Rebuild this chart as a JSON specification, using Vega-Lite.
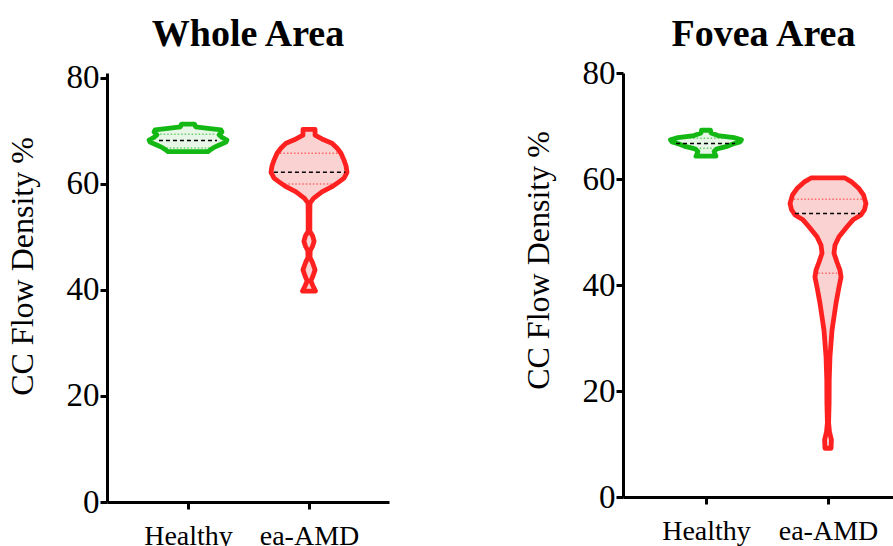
{
  "$schema": "https://vega.github.io/schema/vega-lite/v6.json",
  "background": "white",
  "padding": {"left": 6, "top": 15, "right": 0, "bottom": 0},
  "spacing": 133,
  "config": {
    "view": {"stroke": null},
    "axis": {
      "domainColor": "black", "domainWidth": 3, "tickColor": "black", "tickWidth": 3, "tickSize": 7,
      "labelFont": "Liberation Serif", "labelColor": "black", "titleFont": "Liberation Serif", "titleColor": "black",
      "grid": false, "labelOverlap": false, "labelFlush": false
    },
    "title": {"font": "Liberation Serif", "fontSize": 38, "fontWeight": "bold", "color": "black", "baseline": "alphabetic", "anchor": "middle", "frame": "group"}
  },
  "datasets": {
    "outline": [
      {"panel": "Whole", "group": "Healthy", "v": 71.3, "lo": 0.946, "hi": 1.054},
      {"panel": "Whole", "group": "Healthy", "v": 70.8, "lo": 0.938, "hi": 1.062},
      {"panel": "Whole", "group": "Healthy", "v": 70.5, "lo": 0.835, "hi": 1.165},
      {"panel": "Whole", "group": "Healthy", "v": 70.2, "lo": 0.727, "hi": 1.273},
      {"panel": "Whole", "group": "Healthy", "v": 69.8, "lo": 0.719, "hi": 1.281},
      {"panel": "Whole", "group": "Healthy", "v": 69.3, "lo": 0.744, "hi": 1.256},
      {"panel": "Whole", "group": "Healthy", "v": 68.8, "lo": 0.719, "hi": 1.281},
      {"panel": "Whole", "group": "Healthy", "v": 68.3, "lo": 0.678, "hi": 1.322},
      {"panel": "Whole", "group": "Healthy", "v": 67.9, "lo": 0.686, "hi": 1.314},
      {"panel": "Whole", "group": "Healthy", "v": 67.4, "lo": 0.736, "hi": 1.264},
      {"panel": "Whole", "group": "Healthy", "v": 66.9, "lo": 0.785, "hi": 1.215},
      {"panel": "Whole", "group": "Healthy", "v": 66.4, "lo": 0.818, "hi": 1.182},
      {"panel": "Whole", "group": "Healthy", "v": 66.1, "lo": 0.835, "hi": 1.165},
      {"panel": "Whole", "group": "ea-AMD", "v": 70.3, "lo": 1.950, "hi": 2.050},
      {"panel": "Whole", "group": "ea-AMD", "v": 69.2, "lo": 1.950, "hi": 2.050},
      {"panel": "Whole", "group": "ea-AMD", "v": 68.5, "lo": 1.893, "hi": 2.107},
      {"panel": "Whole", "group": "ea-AMD", "v": 67.7, "lo": 1.810, "hi": 2.190},
      {"panel": "Whole", "group": "ea-AMD", "v": 66.8, "lo": 1.769, "hi": 2.231},
      {"panel": "Whole", "group": "ea-AMD", "v": 65.8, "lo": 1.736, "hi": 2.264},
      {"panel": "Whole", "group": "ea-AMD", "v": 64.5, "lo": 1.711, "hi": 2.289},
      {"panel": "Whole", "group": "ea-AMD", "v": 63.4, "lo": 1.694, "hi": 2.306},
      {"panel": "Whole", "group": "ea-AMD", "v": 62.2, "lo": 1.686, "hi": 2.314},
      {"panel": "Whole", "group": "ea-AMD", "v": 61.1, "lo": 1.711, "hi": 2.289},
      {"panel": "Whole", "group": "ea-AMD", "v": 60.4, "lo": 1.752, "hi": 2.248},
      {"panel": "Whole", "group": "ea-AMD", "v": 59.5, "lo": 1.810, "hi": 2.190},
      {"panel": "Whole", "group": "ea-AMD", "v": 58.5, "lo": 1.893, "hi": 2.107},
      {"panel": "Whole", "group": "ea-AMD", "v": 57.3, "lo": 1.963, "hi": 2.037},
      {"panel": "Whole", "group": "ea-AMD", "v": 56.4, "lo": 1.992, "hi": 2.008},
      {"panel": "Whole", "group": "ea-AMD", "v": 54.2, "lo": 1.993, "hi": 2.007},
      {"panel": "Whole", "group": "ea-AMD", "v": 51.1, "lo": 1.993, "hi": 2.007},
      {"panel": "Whole", "group": "ea-AMD", "v": 50.2, "lo": 1.970, "hi": 2.030},
      {"panel": "Whole", "group": "ea-AMD", "v": 49.2, "lo": 1.958, "hi": 2.042},
      {"panel": "Whole", "group": "ea-AMD", "v": 48.3, "lo": 1.970, "hi": 2.030},
      {"panel": "Whole", "group": "ea-AMD", "v": 47.4, "lo": 1.990, "hi": 2.010},
      {"panel": "Whole", "group": "ea-AMD", "v": 46.2, "lo": 1.992, "hi": 2.008},
      {"panel": "Whole", "group": "ea-AMD", "v": 45.1, "lo": 1.970, "hi": 2.030},
      {"panel": "Whole", "group": "ea-AMD", "v": 43.8, "lo": 1.950, "hi": 2.050},
      {"panel": "Whole", "group": "ea-AMD", "v": 42.6, "lo": 1.968, "hi": 2.032},
      {"panel": "Whole", "group": "ea-AMD", "v": 41.7, "lo": 1.985, "hi": 2.015},
      {"panel": "Whole", "group": "ea-AMD", "v": 40.8, "lo": 1.968, "hi": 2.032},
      {"panel": "Whole", "group": "ea-AMD", "v": 39.8, "lo": 1.946, "hi": 2.054},
      {"panel": "Fovea", "group": "Healthy", "v": 69.2, "lo": 0.963, "hi": 1.037},
      {"panel": "Fovea", "group": "Healthy", "v": 68.7, "lo": 0.959, "hi": 1.041},
      {"panel": "Fovea", "group": "Healthy", "v": 68.2, "lo": 0.902, "hi": 1.098},
      {"panel": "Fovea", "group": "Healthy", "v": 67.8, "lo": 0.770, "hi": 1.230},
      {"panel": "Fovea", "group": "Healthy", "v": 67.4, "lo": 0.709, "hi": 1.291},
      {"panel": "Fovea", "group": "Healthy", "v": 67.0, "lo": 0.721, "hi": 1.279},
      {"panel": "Fovea", "group": "Healthy", "v": 66.6, "lo": 0.779, "hi": 1.221},
      {"panel": "Fovea", "group": "Healthy", "v": 66.1, "lo": 0.836, "hi": 1.164},
      {"panel": "Fovea", "group": "Healthy", "v": 65.7, "lo": 0.910, "hi": 1.090},
      {"panel": "Fovea", "group": "Healthy", "v": 65.2, "lo": 0.934, "hi": 1.066},
      {"panel": "Fovea", "group": "Healthy", "v": 64.7, "lo": 0.926, "hi": 1.074},
      {"panel": "Fovea", "group": "Healthy", "v": 64.3, "lo": 0.918, "hi": 1.082},
      {"panel": "Fovea", "group": "ea-AMD", "v": 60.2, "lo": 1.861, "hi": 2.139},
      {"panel": "Fovea", "group": "ea-AMD", "v": 59.4, "lo": 1.803, "hi": 2.197},
      {"panel": "Fovea", "group": "ea-AMD", "v": 58.2, "lo": 1.746, "hi": 2.254},
      {"panel": "Fovea", "group": "ea-AMD", "v": 57.0, "lo": 1.709, "hi": 2.291},
      {"panel": "Fovea", "group": "ea-AMD", "v": 55.4, "lo": 1.689, "hi": 2.311},
      {"panel": "Fovea", "group": "ea-AMD", "v": 54.2, "lo": 1.701, "hi": 2.299},
      {"panel": "Fovea", "group": "ea-AMD", "v": 53.2, "lo": 1.730, "hi": 2.270},
      {"panel": "Fovea", "group": "ea-AMD", "v": 52.3, "lo": 1.795, "hi": 2.205},
      {"panel": "Fovea", "group": "ea-AMD", "v": 51.0, "lo": 1.844, "hi": 2.156},
      {"panel": "Fovea", "group": "ea-AMD", "v": 49.1, "lo": 1.910, "hi": 2.090},
      {"panel": "Fovea", "group": "ea-AMD", "v": 47.5, "lo": 1.943, "hi": 2.057},
      {"panel": "Fovea", "group": "ea-AMD", "v": 46.0, "lo": 1.951, "hi": 2.049},
      {"panel": "Fovea", "group": "ea-AMD", "v": 44.3, "lo": 1.926, "hi": 2.074},
      {"panel": "Fovea", "group": "ea-AMD", "v": 42.8, "lo": 1.902, "hi": 2.098},
      {"panel": "Fovea", "group": "ea-AMD", "v": 41.5, "lo": 1.893, "hi": 2.107},
      {"panel": "Fovea", "group": "ea-AMD", "v": 39.6, "lo": 1.910, "hi": 2.090},
      {"panel": "Fovea", "group": "ea-AMD", "v": 36.6, "lo": 1.934, "hi": 2.066},
      {"panel": "Fovea", "group": "ea-AMD", "v": 31.5, "lo": 1.967, "hi": 2.033},
      {"panel": "Fovea", "group": "ea-AMD", "v": 26.4, "lo": 1.984, "hi": 2.016},
      {"panel": "Fovea", "group": "ea-AMD", "v": 22.1, "lo": 1.990, "hi": 2.010},
      {"panel": "Fovea", "group": "ea-AMD", "v": 17.7, "lo": 1.991, "hi": 2.009},
      {"panel": "Fovea", "group": "ea-AMD", "v": 14.0, "lo": 1.995, "hi": 2.005},
      {"panel": "Fovea", "group": "ea-AMD", "v": 12.3, "lo": 1.988, "hi": 2.012},
      {"panel": "Fovea", "group": "ea-AMD", "v": 10.8, "lo": 1.972, "hi": 2.028},
      {"panel": "Fovea", "group": "ea-AMD", "v": 9.2, "lo": 1.975, "hi": 2.025}
    ],
    "lines": [
      {"panel": "Whole", "group": "Healthy", "kind": "median", "v": 68.2, "lo": 0.76, "hi": 1.24},
      {"panel": "Whole", "group": "Healthy", "kind": "quartile", "v": 69.4, "lo": 0.77, "hi": 1.23},
      {"panel": "Whole", "group": "Healthy", "kind": "quartile", "v": 66.8, "lo": 0.82, "hi": 1.18},
      {"panel": "Whole", "group": "ea-AMD", "kind": "median", "v": 62.2, "lo": 1.71, "hi": 2.30},
      {"panel": "Whole", "group": "ea-AMD", "kind": "quartile", "v": 65.8, "lo": 1.76, "hi": 2.24},
      {"panel": "Whole", "group": "ea-AMD", "kind": "quartile", "v": 60.0, "lo": 1.80, "hi": 2.20},
      {"panel": "Fovea", "group": "Healthy", "kind": "median", "v": 66.7, "lo": 0.754, "hi": 1.238},
      {"panel": "Fovea", "group": "Healthy", "kind": "quartile", "v": 67.7, "lo": 0.78, "hi": 1.22},
      {"panel": "Fovea", "group": "Healthy", "kind": "quartile", "v": 65.8, "lo": 0.92, "hi": 1.08},
      {"panel": "Fovea", "group": "ea-AMD", "kind": "median", "v": 53.5, "lo": 1.73, "hi": 2.26},
      {"panel": "Fovea", "group": "ea-AMD", "kind": "quartile", "v": 56.2, "lo": 1.72, "hi": 2.28},
      {"panel": "Fovea", "group": "ea-AMD", "kind": "quartile", "v": 42.2, "lo": 1.92, "hi": 2.08}
    ]
  },
  "hconcat": [
    {
      "width": 282,
      "height": 429,
      "title": {"text": "Whole Area", "offset": 8},
      "layer": [
        {
          "data": {"name": "outline"},
          "transform": [{"filter": "datum.panel == 'Whole'"}],
          "mark": {"type": "area", "orient": "horizontal", "strokeWidth": 4.8, "strokeJoin": "round", "fillOpacity": 1},
          "encoding": {
            "y": {"field": "v", "type": "quantitative", "scale": {"domain": [0, 80.943], "nice": false},
              "axis": {"values": [0, 20, 40, 60, 80], "title": "CC Flow Density %", "titleFontSize": 32, "titleFontWeight": "normal",
                "titleAngle": -90, "titleX": -75, "titleY": 193, "titleBaseline": "alphabetic", "titleAlign": "center",
                "labelFontSize": 33, "labelPadding": 1}},
            "x": {"field": "lo", "type": "quantitative", "scale": {"domain": [0.3306, 2.661], "nice": false, "zero": false},
              "axis": {"values": [1, 2], "labelExpr": "datum.value == 1 ? 'Healthy' : 'ea-AMD'", "title": null, "labelFontSize": 28, "labelPadding": 13}},
            "x2": {"field": "hi"},
            "fill": {"field": "group", "type": "nominal", "scale": {"domain": ["Healthy", "ea-AMD"], "range": ["#e8f6e8", "#fad2d2"]}, "legend": null},
            "stroke": {"field": "group", "type": "nominal", "scale": {"domain": ["Healthy", "ea-AMD"], "range": ["#14b814", "#ff2020"]}, "legend": null}
          }
        },
        {
          "data": {"name": "lines"},
          "transform": [{"filter": "datum.panel == 'Whole' && datum.kind == 'quartile'"}],
          "mark": {"type": "rule", "strokeDash": [1.5, 2], "strokeWidth": 1.5, "opacity": 0.6},
          "encoding": {
            "y": {"field": "v", "type": "quantitative"},
            "x": {"field": "lo", "type": "quantitative"},
            "x2": {"field": "hi"},
            "stroke": {"field": "group", "type": "nominal", "legend": null}
          }
        },
        {
          "data": {"name": "lines"},
          "transform": [{"filter": "datum.panel == 'Whole' && datum.kind == 'median'"}],
          "mark": {"type": "rule", "strokeDash": [4, 3], "strokeWidth": 1.5, "color": "black"},
          "encoding": {
            "y": {"field": "v", "type": "quantitative"},
            "x": {"field": "lo", "type": "quantitative"},
            "x2": {"field": "hi"}
          }
        }
      ]
    },
    {
      "width": 271,
      "height": 424,
      "title": {"text": "Fovea Area", "offset": 3, "dx": 5},
      "layer": [
        {
          "data": {"name": "outline"},
          "transform": [{"filter": "datum.panel == 'Fovea'"}],
          "mark": {"type": "area", "orient": "horizontal", "strokeWidth": 4.8, "strokeJoin": "round", "fillOpacity": 1},
          "encoding": {
            "y": {"field": "v", "type": "quantitative", "scale": {"domain": [0, 80], "nice": false},
              "axis": {"values": [0, 20, 40, 60, 80], "title": "CC Flow Density %", "titleFontSize": 32, "titleFontWeight": "normal",
                "titleAngle": -90, "titleX": -75, "titleY": 187, "titleBaseline": "alphabetic", "titleAlign": "center",
                "labelFontSize": 33, "labelPadding": 1}},
            "x": {"field": "lo", "type": "quantitative", "scale": {"domain": [0.3197, 2.541], "nice": false, "zero": false},
              "axis": {"values": [1, 2], "labelExpr": "datum.value == 1 ? 'Healthy' : 'ea-AMD'", "title": null, "labelFontSize": 28, "labelPadding": 13}},
            "x2": {"field": "hi"},
            "fill": {"field": "group", "type": "nominal", "scale": {"domain": ["Healthy", "ea-AMD"], "range": ["#e8f6e8", "#fad2d2"]}, "legend": null},
            "stroke": {"field": "group", "type": "nominal", "scale": {"domain": ["Healthy", "ea-AMD"], "range": ["#14b814", "#ff2020"]}, "legend": null}
          }
        },
        {
          "data": {"name": "lines"},
          "transform": [{"filter": "datum.panel == 'Fovea' && datum.kind == 'quartile'"}],
          "mark": {"type": "rule", "strokeDash": [1.5, 2], "strokeWidth": 1.5, "opacity": 0.6},
          "encoding": {
            "y": {"field": "v", "type": "quantitative"},
            "x": {"field": "lo", "type": "quantitative"},
            "x2": {"field": "hi"},
            "stroke": {"field": "group", "type": "nominal", "legend": null}
          }
        },
        {
          "data": {"name": "lines"},
          "transform": [{"filter": "datum.panel == 'Fovea' && datum.kind == 'median'"}],
          "mark": {"type": "rule", "strokeDash": [4, 3], "strokeWidth": 1.5, "color": "black"},
          "encoding": {
            "y": {"field": "v", "type": "quantitative"},
            "x": {"field": "lo", "type": "quantitative"},
            "x2": {"field": "hi"}
          }
        }
      ]
    }
  ]
}
